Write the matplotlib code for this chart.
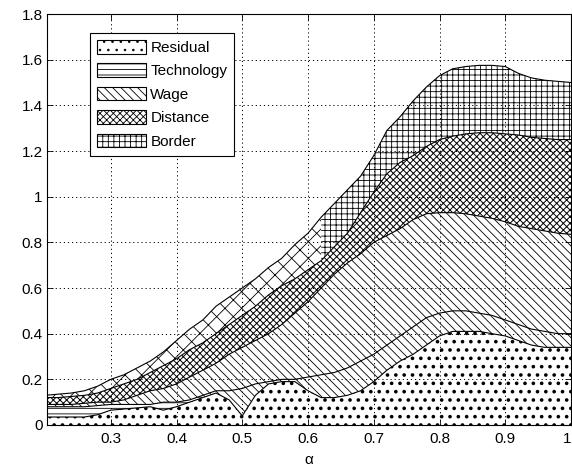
import numpy as np
import matplotlib
matplotlib.use("Agg")
import matplotlib.pyplot as plt
from matplotlib.patches import Patch

# ---- data (layer contributions, stacked bottom to top) ----
alpha = [0.20, 0.22, 0.24, 0.26, 0.28, 0.30, 0.32, 0.34, 0.36, 0.38,
         0.40, 0.42, 0.44, 0.46, 0.48, 0.50, 0.52, 0.54, 0.56, 0.58,
         0.60, 0.62, 0.64, 0.66, 0.68, 0.70, 0.72, 0.74, 0.76, 0.78,
         0.80, 0.82, 0.84, 0.86, 0.88, 0.90, 0.92, 0.94, 0.96, 0.98, 1.00]

residual = [0.035, 0.035, 0.035, 0.035, 0.045, 0.065, 0.070, 0.075, 0.080, 0.065,
            0.080, 0.100, 0.120, 0.140, 0.110, 0.040, 0.130, 0.180, 0.190, 0.190,
            0.150, 0.120, 0.120, 0.130, 0.150, 0.190, 0.240, 0.280, 0.310, 0.350,
            0.390, 0.410, 0.410, 0.410, 0.400, 0.390, 0.370, 0.350, 0.340, 0.340, 0.340]

technology = [0.045, 0.045, 0.045, 0.045, 0.040, 0.025, 0.020, 0.015, 0.010, 0.035,
              0.020, 0.010, 0.010, 0.010, 0.040, 0.120, 0.050, 0.010, 0.010, 0.010,
              0.060, 0.100, 0.110, 0.120, 0.130, 0.120, 0.110, 0.110, 0.120, 0.120,
              0.100, 0.090, 0.090, 0.080, 0.080, 0.070, 0.070, 0.070, 0.070, 0.060, 0.060]

wage = [0.010, 0.010, 0.010, 0.015, 0.015, 0.010, 0.020, 0.040, 0.060, 0.060,
        0.080, 0.100, 0.110, 0.120, 0.160, 0.180, 0.190, 0.210, 0.240, 0.290,
        0.330, 0.380, 0.430, 0.460, 0.470, 0.490, 0.480, 0.470, 0.470, 0.455,
        0.440, 0.430, 0.425, 0.425, 0.425, 0.430, 0.430, 0.440, 0.440, 0.440, 0.435]

distance = [0.030, 0.030, 0.035, 0.035, 0.040, 0.060, 0.070, 0.070, 0.080, 0.100,
            0.110, 0.120, 0.120, 0.130, 0.130, 0.140, 0.150, 0.170, 0.170, 0.150,
            0.140, 0.120, 0.120, 0.130, 0.180, 0.220, 0.270, 0.290, 0.280, 0.295,
            0.320, 0.335, 0.350, 0.365, 0.375, 0.385, 0.400, 0.400, 0.405, 0.410, 0.415]

border = [0.010, 0.015, 0.015, 0.020, 0.030, 0.040, 0.040, 0.050, 0.050, 0.060,
          0.080, 0.090, 0.100, 0.120, 0.120, 0.120, 0.120, 0.120, 0.120, 0.150,
          0.160, 0.190, 0.190, 0.190, 0.160, 0.160, 0.190, 0.200, 0.240, 0.260,
          0.280, 0.295, 0.295, 0.295, 0.295, 0.295, 0.270, 0.260, 0.255, 0.255, 0.250]

labels = ["Residual", "Technology", "Wage", "Distance", "Border"]
xticks = [0.3, 0.4, 0.5, 0.6, 0.7, 0.8, 0.9, 1.0]
xticklabels = ["0.3", "0.4", "0.5", "0.6", "0.7", "0.8", "0.9", "1"]
yticks = [0, 0.2, 0.4, 0.6, 0.8, 1.0, 1.2, 1.4, 1.6, 1.8]
yticklabels = ["0", "0.2", "0.4", "0.6", "0.8", "1", "1.2", "1.4", "1.6", "1.8"]

# ---- styling ----
plt.rcParams["font.family"] = ["Liberation Sans", "DejaVu Sans"]
plt.rcParams["hatch.linewidth"] = 0.6
FS = 11

fig = plt.figure(figsize=(5.72, 4.74), dpi=100)
ax = fig.add_axes([47 / 572, 49 / 474, 524 / 572, 411 / 474])

x = np.array(alpha)
layers = [np.array(v) for v in (residual, technology, wage, distance, border)]
hatches = ["..", "---", "\\\\\\\\", "xxxxx", "+++"]
hatch_lw = [1.4, 0.6, 0.6, 0.7, 0.6]


def band(lo, hi, hatch, where=None, hlw=0.6):
    plt.rcParams["hatch.linewidth"] = hlw
    ax.fill_between(x, lo, hi, where=where, facecolor="white", edgecolor="black",
                    hatch=hatch, linewidth=0, zorder=1)
    plt.rcParams["hatch.linewidth"] = 0.6


base = np.zeros_like(x)
tops = []
for i, vals in enumerate(layers):
    top = base + vals
    if i == 1:
        band(base, top, "---", where=x <= 0.44)
        band(base, top, hatches[2], where=x >= 0.44)
    elif i == 4:
        band(base, top, "xx", where=x <= 0.62)
        band(base, top, "+++", where=x >= 0.62)
    else:
        band(base, top, hatches[i], hlw=hatch_lw[i])
    tops.append(top)
    base = top

for top in tops:
    ax.plot(x, top, color="black", linewidth=0.8, zorder=2)

ax.set_xlim(0.203, 1.0)
ax.set_ylim(0, 1.8)
ax.set_xticks(xticks)
ax.set_xticklabels(xticklabels)
ax.set_yticks(yticks)
ax.set_yticklabels(yticklabels)
ax.tick_params(direction="in", top=True, right=True, length=4, width=0.6,
               labelsize=FS, colors="black")
ax.tick_params(axis="x", pad=5)
ax.tick_params(axis="y", pad=3)
ax.get_xticklabels()[-1].set_horizontalalignment("right")
ax.set_axisbelow(False)
ax.grid(True, color="black", linestyle=(0, (1.2, 3.0)), linewidth=0.7)
for s in ax.spines.values():
    s.set_linewidth(0.8)
    s.set_zorder(5)

ax.set_xlabel("α", fontsize=FS, labelpad=5)

handles = []
for i, h in enumerate(hatches):
    plt.rcParams["hatch.linewidth"] = hatch_lw[i]
    handles.append(Patch(facecolor="white", edgecolor="black", hatch=h, linewidth=0.8))
plt.rcParams["hatch.linewidth"] = 0.6

leg = ax.legend(handles, labels, loc="upper left",
                bbox_to_anchor=((90 - 47) / 524, (425 - 33) / 411),
                borderaxespad=0, fontsize=FS, handlelength=3.2, handleheight=1.0,
                handletextpad=0.3, labelspacing=0.55, borderpad=0.45,
                frameon=True, fancybox=False, edgecolor="black", framealpha=1)
leg.get_frame().set_linewidth(0.8)
leg.set_zorder(10)

fig.savefig("out.png", dpi=100)
